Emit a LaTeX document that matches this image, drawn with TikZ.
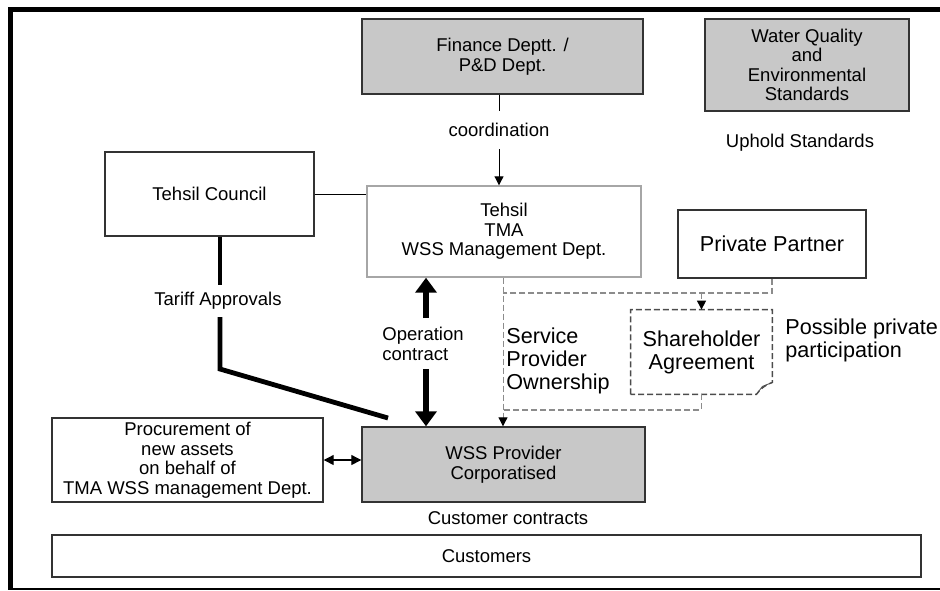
\documentclass[tikz,border=0pt]{standalone}
\usepackage{fontspec}
\setmainfont{Liberation Sans}
\usetikzlibrary{arrows.meta,calc}
\definecolor{boxgrey}{RGB}{200,200,200}

\begin{document}
\begin{tikzpicture}[
    x=0.5pt,y=-0.5pt,
    box/.style={draw=black!80,line width=0.7pt,align=center,inner sep=0pt,font=\fontsize{9.25}{9.75}\selectfont},
    greybox/.style={box,fill=boxgrey},
    lbl/.style={align=center,inner sep=0pt,font=\fontsize{9.25}{9.75}\selectfont},
    biglbl/.style={align=left,inner sep=0pt,font=\fontsize{10.8}{11.5}\selectfont},
    arr/.style={-{Triangle[length=4.5pt,width=4.5pt,color=black]},line width=0.5pt},
    fatarr/.style={-{Triangle[length=7.5pt,width=10.5pt]},line width=3pt},
    fat/.style={line width=2.4pt},
    ownline/.style={draw=black!45,dashed,dash pattern=on 3pt off 1.5pt,line width=0.7pt},
    sharebox/.style={draw=black!70,dashed,dash pattern=on 3pt off 1.5pt,line width=0.7pt}
]
\useasboundingbox (0,0) rectangle (940,590);
% frame
\draw[line width=2.5pt] (940,9.5) -- (10.5,9.5) -- (10.5,590);
\draw[line width=1pt] (10,588.5) -- (940,588.5);

\node[greybox,minimum width=140.5pt,minimum height=37.5pt] (finance) at (502.5,56.5) {Finance Deptt. /\\P\&D Dept.};
\node[greybox,minimum width=102pt,minimum height=46pt] (water) at (807,65) {Water Quality\\and\\Environmental\\Standards};
\node[lbl] (uphold) at (800,143) {Uphold Standards};
\node[lbl,inner ysep=6pt] (coord) at (499,130) {coordination};
\node[box,minimum width=104.5pt,minimum height=42pt] (council) at (209.5,194) {Tehsil Council};
\node[box,draw=black!35,minimum width=137pt,minimum height=45.5pt] (tma) at (504,231.5) {Tehsil\\TMA\\WSS Management Dept.};
\node[box,font=\fontsize{10.8}{11.5}\selectfont,minimum width=94pt,minimum height=34pt] (partner) at (772,244) {Private Partner};
\node[biglbl,align=center,minimum width=70.5pt,minimum height=42pt] (share) at (701.5,352) {Shareholder\\Agreement};
\node[greybox,minimum width=141.5pt,minimum height=37.5pt] (wss) at (503.5,464.5) {WSS Provider\\Corporatised};
\node[box,minimum width=135.5pt,minimum height=42pt] (proc) at (187.5,460) {Procurement of\\new assets\\on behalf of\\TMA WSS management Dept.};
\node[box,minimum width=434.5pt,minimum height=21pt] (cust) at (486.5,556) {Customers};

% labels
\node[lbl,inner ysep=3.5pt] (tariff) at (218,301) {Tariff Approvals};
\node[lbl,align=left,anchor=west] (opcon) at (382,344) {Operation\\contract};
\node[biglbl,anchor=west] (owner) at (506,361) {Service\\Provider\\Ownership};
\node[biglbl,anchor=west] (possible) at (785,340) {Possible private\\participation};
\node[lbl] (custcon) at (508,518) {Customer contracts};

\coordinate (opup) at (426,318);
\coordinate (opdown) at (426,369);
\coordinate (tbend) at (220,369);
\coordinate (tend) at (388,418);
\coordinate (split) at (503,293);
\coordinate (merge) at (503,410);

\draw[line width=0.5pt] (coord.north |- finance.south) -- (coord.north);
\draw[arr] (coord.south) -- (coord.south |- tma.north);
\draw[line width=0.5pt] (council.east) -- (council.east -| tma.west);

\draw[fat] (council.south -| tbend) -- (tariff.north -| tbend);
\draw[fat] (tariff.south -| tbend) -- (tbend) -- (tend);

\draw[fatarr] (opup) -- (opup |- tma.south);
\draw[fatarr] (opdown) -- (opdown |- wss.north);

% shareholder sheet with folded corner
\draw[sharebox] (share.south west) -- (share.north west) -- (share.north east)
  -- ($(share.south east)+(0,-12)$) .. controls ($(share.south east)+(-6,-10)$) and ($(share.south east)+(-12,-6)$) .. ($(share.south east)+(-16,0)$) -- cycle;
\draw[draw=black!70,line width=0.4pt] ($(share.south east)+(-16,0)$) -- ($(share.south east)+(-10,-8)$) -- ($(share.south east)+(0,-12)$);

\draw[ownline] (partner.south) |- (split);
\draw[ownline,arr] (share.north |- split) -- (share.north);
\draw[ownline] (share.south) |- (merge);
\draw[ownline,arr] (split |- tma.south) -- (split |- wss.north);

\draw[{Triangle[length=5pt,width=5pt]}-{Triangle[length=5pt,width=5pt]},line width=0.6pt] (proc.east) -- (proc.east -| wss.west);
\end{tikzpicture}
\end{document}
